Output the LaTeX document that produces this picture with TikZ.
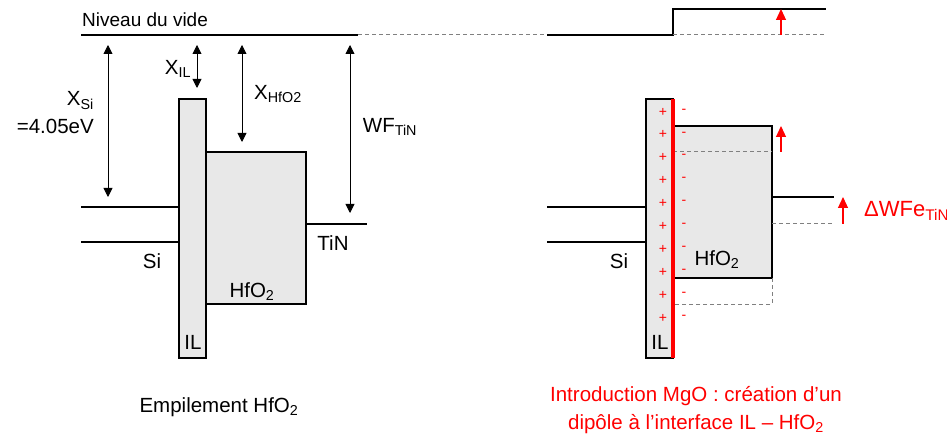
\documentclass[tikz,border=0pt]{standalone}
\usepackage{fontspec}
\setmainfont{Liberation Sans}
\usetikzlibrary{arrows.meta}
\tikzset{
  band/.style={line width=1.2pt},
  oldlevel/.style={gray, line width=1pt, dash pattern=on 4pt off 3pt},
  oxide/.style={draw, line width=1.2pt, fill=gray!18},
  dimarrow/.style={line width=0.9pt, {Triangle[length=9pt,width=9pt]}-{Triangle[length=9pt,width=9pt]}},
  redarrow/.style={red, line width=1.2pt, -{Triangle[length=11pt,width=10pt]}},
  lbl/.style={font=\fontsize{20.5}{28}\selectfont, inner sep=0pt},
  charge/.style={red, font=\fontsize{14}{15}\selectfont, inner sep=0pt},
}
\begin{document}
\begin{tikzpicture}[x=1pt,y=-1pt]
\useasboundingbox (0,0) rectangle (947,438);
% left: stack HfO2
\draw[band] (81,35) -- (358,35);
\draw[oldlevel] (358,35) -- (547,35);
\node[lbl, anchor=west, font=\fontsize{19}{24}\selectfont] (vide) at (82,20) {Niveau du vide};
\draw[band] (81,207) -- (179,207);
\draw[band] (81,242) -- (179,242);
\draw[oxide] (206,152) rectangle (306,304);
\draw[oxide] (179,99) rectangle (206,358);
\draw[band] (306,224) -- (367,224);
\draw[dimarrow] (108,45) -- (108,197);
\draw[dimarrow] (197,45) -- (197,88);
\draw[dimarrow] (242,45) -- (242,142);
\draw[dimarrow] (350,45) -- (350,213);
\node[lbl, anchor=east, align=right] (xsi) at (94,113) {X\textsubscript{Si}\\=4.05eV};
\node[lbl] (xil) at (178,69) {X\textsubscript{IL}};
\node[lbl] (xhf) at (278,94) {X\textsubscript{HfO2}};
\node[lbl] (wf) at (390,127) {WF\textsubscript{TiN}};
\node[lbl] (tin) at (333,243) {TiN};
\node[lbl] (si) at (152,261) {Si};
\node[lbl] (hf) at (252,292) {HfO\textsubscript{2}};
\node[lbl] (il) at (193,342) {IL};
\node[lbl] (cap1) at (219,407) {Empilement HfO\textsubscript{2}};
% right: dipole MgO
\draw[band] (547,35) -- (673,35) -- (673,9) -- (826,9);
\draw[oldlevel] (673,35) -- (826,35);
\draw[redarrow] (781,35) -- (781,9);
\draw[band] (547,207) -- (646,207);
\draw[band] (547,242) -- (646,242);
\draw[oxide] (673,126) rectangle (772,278);
\draw[oldlevel] (673,152) -- (772,152);
\draw[oldlevel] (772,278) -- (772,304) -- (673,304);
\draw[redarrow] (781,152) -- (781,126);
\draw[band] (772,197) -- (834,197);
\draw[oldlevel] (772,224) -- (833,224);
\draw[redarrow] (843,224) -- (843,197);
\draw[oxide] (646,99) rectangle (673,358);
\draw[red, line width=3.5pt] (673,99) -- (673,358);
\foreach \k in {0,...,9} {
  \node[charge] at (663,112+22.9*\k) {+};
  \node[charge] at (684,111+22.9*\k) {-};
}
\node[lbl, red, anchor=west, font=\fontsize{22}{26}\selectfont] (dwf) at (864,211) {ΔWFe\textsubscript{TiN}};
\node[lbl] (si2) at (619,261) {Si};
\node[lbl] (hf2) at (717,260) {HfO\textsubscript{2}};
\node[lbl] (il2) at (660,342) {IL};
\node[lbl, red, align=center] (cap2) at (696,410) {Introduction MgO : création d’un\\dipôle à l’interface IL – HfO\textsubscript{2}};
\end{tikzpicture}
\end{document}
